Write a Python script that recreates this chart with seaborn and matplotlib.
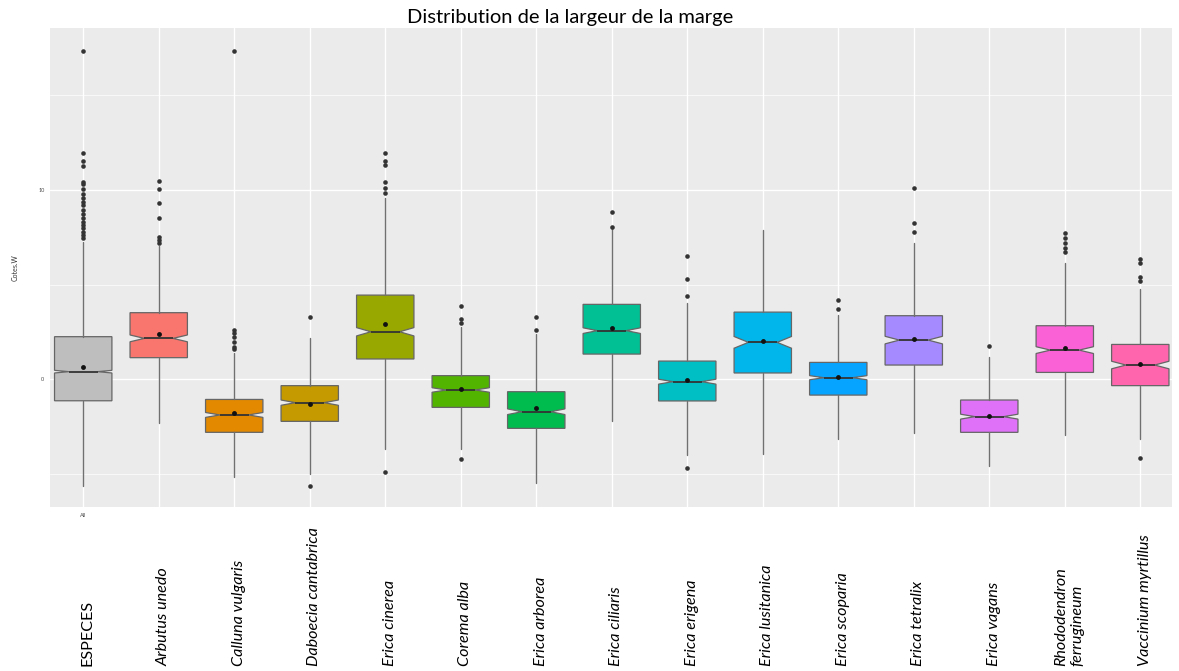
import numpy as np
import pandas as pd
import matplotlib
matplotlib.use("Agg")
import matplotlib.pyplot as plt
import matplotlib.transforms as mtransforms
import seaborn as sns

# =====================================================
# DATA
# =====================================================

species = [
    "ESPECES", "Arbutus unedo", "Calluna vulgaris", "Daboecia cantabrica",
    "Erica cinerea", "Corema alba", "Erica arborea", "Erica ciliaris",
    "Erica erigena", "Erica lusitanica", "Erica scoparia", "Erica tetralix",
    "Erica vagans", "Rhododendron\nferrugineum", "Vaccinium myrtillus",
]

q1 = [-1.15, 1.13, -2.82, -2.24, 1.06, -1.50, -2.61, 1.32, -1.16, 0.32, -0.85, 0.74, -2.82, 0.35, -0.35]
median = [0.39, 2.15, -1.90, -1.25, 2.50, -0.58, -1.73, 2.56, -0.14, 1.94, 0.07, 2.06, -1.99, 1.53, 0.74]
q3 = [2.24, 3.51, -1.08, -0.35, 4.44, 0.18, -0.67, 3.95, 0.95, 3.54, 0.88, 3.35, -1.11, 2.82, 1.83]
whis_low = [-5.66, -2.35, -5.17, -5.04, -3.72, -3.70, -5.49, -2.20, -4.02, -3.97, -3.19, -2.84, -4.60, -2.96, -3.19]
whis_high = [7.27, 7.04, 1.39, 2.15, 9.56, 2.77, 2.38, 8.06, 4.04, 7.88, 3.39, 7.18, 1.18, 6.12, 4.74]
means = [0.65, 2.38, -1.82, -1.32, 2.91, -0.55, -1.55, 2.68, -0.07, 2.01, 0.11, 2.13, -1.94, 1.66, 0.79]
notch_half = [0.07, 0.18, 0.13, 0.14, 0.22, 0.12, 0.15, 0.15, 0.13, 0.31, 0.11, 0.20, 0.13, 0.18, 0.20]

outliers = [
    [17.37, 11.98, 11.55, 11.27, 10.44, 10.32, 10.04, 9.79, 9.56, 9.38, 9.21,
     8.94, 8.72, 8.50, 8.32, 8.15, 7.97, 7.79, 7.62, 7.44],
    [10.49, 10.04, 9.29, 8.50, 7.53, 7.35, 7.18],
    [17.37, 2.59, 2.42, 2.20, 1.98, 1.71, 1.59],
    [3.30, -5.66],
    [11.98, 11.55, 11.34, 10.40, 10.09, 9.82, -4.94],
    [3.86, 3.16, 2.98, -4.23],
    [3.30, 2.59],
    [8.82, 8.06],
    [6.51, 5.31, 4.39, -4.69],
    [],
    [4.18, 3.69],
    [10.09, 8.24, 7.79],
    [1.76],
    [7.74, 7.44, 7.18, 6.95, 6.74],
    [6.33, 6.16, 5.41, 5.19, -4.20],
]

colors = [
    "#BEBEBE", "#F8766D", "#E38900", "#C49A00", "#99A800", "#53B400",
    "#00BC4F", "#00C094", "#00BFC4", "#00B6EB", "#06A4FF", "#A58AFF",
    "#DF70F8", "#FB61D7", "#FF65AC",
]

# =====================================================
# THEME (ggplot-like grey panel)
# =====================================================

sns.set_theme(style="darkgrid", rc={
    "axes.facecolor": "#EBEBEB",
    "grid.color": "white",
})
plt.rcParams["font.family"] = ["Lato", "DejaVu Sans"]

W, H = 1179, 671
fig = plt.figure(figsize=(W / 100, H / 100), dpi=100)
ax = fig.add_axes([50 / W, (H - 507) / H, (1172 - 50) / W, (507 - 28) / H])

# =====================================================
# BOXES
# =====================================================

stats = []
for i in range(len(species)):
    stats.append({
        "q1": q1[i], "med": median[i], "q3": q3[i],
        "whislo": whis_low[i], "whishi": whis_high[i],
        "cilo": median[i] - notch_half[i], "cihi": median[i] + notch_half[i],
        "fliers": [],
    })

bp = ax.bxp(
    stats,
    positions=range(len(species)),
    widths=0.76,
    shownotches=True,
    showcaps=False,
    showfliers=False,
    patch_artist=True,
    boxprops=dict(edgecolor="#666666", linewidth=0.9),
    whiskerprops=dict(color="#707070", linewidth=1.0),
    medianprops=dict(color="#333333", linewidth=1.3),
    zorder=2,
)
for patch, c in zip(bp["boxes"], colors):
    patch.set_facecolor(c)

# outliers and means drawn with seaborn
rows = []
for name, vals in zip(species, outliers):
    for v in vals:
        rows.append({"species": name, "value": v})
out_df = pd.DataFrame(rows)
mean_df = pd.DataFrame({"species": species, "value": means})

sns.stripplot(data=out_df, x="species", y="value", order=species,
              jitter=False, size=3.3, color="#333333", linewidth=0, ax=ax, zorder=3)
sns.stripplot(data=mean_df, x="species", y="value", order=species,
              jitter=False, size=3.5, color="#111111", linewidth=0, ax=ax, zorder=4)

# =====================================================
# AXES
# =====================================================

ax.set_xlim(-0.44, 14.42)
ax.set_ylim(-6.77, 18.57)

ax.set_yticks([0, 10])
ax.set_yticklabels(["0", "10"], fontsize=4, color="#4d4d4d")
ax.set_yticks([-5, 5, 15], minor=True)
ax.grid(which="major", color="white", linewidth=1.0)
ax.grid(which="minor", axis="y", color="white", linewidth=0.5)

ax.set_xticks(range(len(species)))
ax.set_xticklabels(["All"] + [""] * (len(species) - 1), fontsize=4, color="#4d4d4d")
ax.tick_params(axis="both", which="major", length=3, width=0.6, color="#555555", pad=1)
ax.tick_params(axis="y", which="minor", length=0)
ax.set_xlabel("")
ax.set_ylabel("Cotes.W", fontsize=5, color="#333333", labelpad=14)

for s in ax.spines.values():
    s.set_visible(False)

# species names under the panel, bottom aligned
trans = mtransforms.blended_transform_factory(ax.transData, fig.transFigure)
for i, name in enumerate(species):
    style = "normal" if name == "ESPECES" else "italic"
    ax.text(i + 0.06, (H - 666) / H, name, transform=trans, rotation=90,
            ha="center", va="bottom", fontsize=11.6, fontstyle=style,
            multialignment="left", color="black")

fig.text(570 / W, 1 - 17 / H, "Distribution de la largeur de la marge",
         ha="center", va="center", fontsize=14.5, color="black")

fig.savefig("out.png", dpi=100)
